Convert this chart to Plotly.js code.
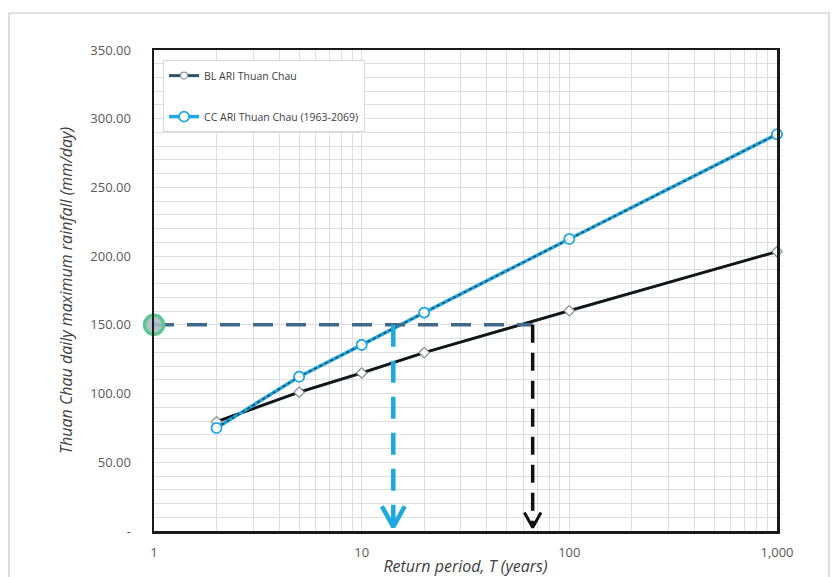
<!DOCTYPE html>
<html>
<head>
<meta charset="utf-8">
<script src="https://cdn.plot.ly/plotly-3.0.1.min.js"></script>
<style>
  html, body { margin: 0; padding: 0; background: #ffffff; }
  #chart { width: 832px; height: 577px; }
</style>
</head>
<body>
<div id="chart"></div>
<script>
// Return periods (years) and annual-maximum daily rainfall estimates (mm/day)
const returnPeriods = [2, 5, 10, 20, 100, 1000];
const blRainfall = [79.5, 101, 115, 129.8, 160.3, 203.3];
const ccRainfall = [75, 112.3, 135.4, 158.9, 212.5, 288.7];

// Design rainfall threshold and the return periods it maps to
const designRain = 150;
const ccReturnAtDesign = 14.2;
const blReturnAtDesign = 66.6;

// Axis tick labels
const yTickVals = [0, 50, 100, 150, 200, 250, 300, 350];
const yTickText = ['-', '50.00', '100.00', '150.00', '200.00', '250.00', '300.00', '350.00'];
const xTickVals = [1, 10, 100, 1000];
const xTickText = ['1', '10', '100', '1,000'];

const seriesNames = ['BL ARI Thuan Chau', 'CC ARI Thuan Chau (1963-2069)'];

// minor log gridlines 2..9 in each decade
const xMinor = [];
[1, 10, 100].forEach(d => { for (let k = 2; k <= 9; k++) xMinor.push(k * d); });

// small open chevron at the foot of a vertical guide
function chevron(T, tipY, halfDecades, armH) {
  return {
    x: [T * Math.pow(10, -halfDecades), T, T * Math.pow(10, halfDecades)],
    y: [tipY + armH, tipY, tipY + armH]
  };
}

const blueArrow = chevron(ccReturnAtDesign, 3, 0.055, 15);
const blackArrow = chevron(blReturnAtDesign, 2.5, 0.04, 11);

const traces = [
  // baseline series
  {
    x: returnPeriods, y: blRainfall, name: seriesNames[0], type: 'scatter', mode: 'lines+markers',
    legendgroup: 'bl', cliponaxis: false,
    line: { color: '#2f5468', width: 3 },
    marker: { symbol: 'circle', size: 7, color: '#ffffff', line: { color: '#8a9aa4', width: 1.2 } }
  },
  // baseline trend
  {
    x: returnPeriods, y: blRainfall, type: 'scatter', mode: 'lines', showlegend: false, hoverinfo: 'skip',
    line: { color: '#141414', width: 2.4 }
  },
  {
    x: returnPeriods, y: blRainfall, type: 'scatter', mode: 'markers', showlegend: false, hoverinfo: 'skip',
    cliponaxis: false,
    marker: { symbol: 'diamond', size: 8, color: '#ffffff', line: { color: '#8c8c8c', width: 1.2 } }
  },
  // climate-change series
  {
    x: returnPeriods, y: ccRainfall, name: seriesNames[1], type: 'scatter', mode: 'lines+markers',
    legendgroup: 'cc', cliponaxis: false,
    line: { color: '#1fa8e0', width: 3.5 },
    marker: { symbol: 'circle', size: 10, color: '#ffffff', line: { color: '#1fa8e0', width: 1.6 } }
  },
  // climate-change trend (dotted)
  {
    x: returnPeriods, y: ccRainfall, type: 'scatter', mode: 'lines', showlegend: false, hoverinfo: 'skip',
    line: { color: '#2b4b5c', width: 1.6, dash: 'dot' }
  },
  {
    x: returnPeriods, y: ccRainfall, type: 'scatter', mode: 'markers', showlegend: false, hoverinfo: 'skip',
    cliponaxis: false,
    marker: { symbol: 'circle', size: 10, color: 'rgba(255,255,255,0.85)', line: { color: '#1fa8e0', width: 1.6 } }
  },
  // design rainfall guide
  {
    x: [1, blReturnAtDesign], y: [designRain, designRain], type: 'scatter', mode: 'lines',
    showlegend: false, hoverinfo: 'skip',
    line: { color: '#41698a', width: 3.5, dash: '20px,13px' }
  },
  {
    x: [ccReturnAtDesign, ccReturnAtDesign], y: [designRain, 6], type: 'scatter', mode: 'lines',
    showlegend: false, hoverinfo: 'skip',
    line: { color: '#1fa8e0', width: 4.5, dash: '22px,14px' }
  },
  {
    x: blueArrow.x, y: blueArrow.y, type: 'scatter', mode: 'lines', showlegend: false, hoverinfo: 'skip',
    line: { color: '#1fa8e0', width: 4.5 }
  },
  {
    x: [blReturnAtDesign, blReturnAtDesign], y: [designRain, 5], type: 'scatter', mode: 'lines',
    showlegend: false, hoverinfo: 'skip',
    line: { color: '#111111', width: 3.5, dash: '18px,10px' }
  },
  {
    x: blackArrow.x, y: blackArrow.y, type: 'scatter', mode: 'lines', showlegend: false, hoverinfo: 'skip',
    line: { color: '#111111', width: 3 }
  },
  // design point on the rainfall axis
  {
    x: [1], y: [designRain], type: 'scatter', mode: 'markers', showlegend: false, hoverinfo: 'skip',
    cliponaxis: false,
    marker: { symbol: 'circle', size: 19, color: 'rgba(170,190,195,0.9)', line: { color: '#5cc890', width: 3.5 } }
  }
];

const gridC = '#dedede';

const layout = {
  width: 832, height: 577,
  margin: { l: 154, r: 55, t: 50, b: 46 },
  paper_bgcolor: '#ffffff',
  plot_bgcolor: '#ffffff',
  font: { family: '"Open Sans", "DejaVu Sans", sans-serif', color: '#595959', size: 13 },
  showlegend: true,
  legend: {
    x: 0.0145, y: 0.979, xanchor: 'left', yanchor: 'top',
    bgcolor: '#ffffff', bordercolor: '#d9d9d9', borderwidth: 1,
    font: { size: 10.5, color: '#404040' },
    traceorder: 'grouped', tracegroupgap: 22,
    itemwidth: 30
  },
  xaxis: {
    type: 'log', range: [0, 3],
    tickvals: xTickVals, ticktext: xTickText,
    showgrid: true, gridcolor: gridC, gridwidth: 1,
    minor: { tickvals: xMinor, showgrid: true, gridcolor: gridC, gridwidth: 1, ticks: '' },
    showline: true, mirror: true, linecolor: '#1a1a1a', linewidth: 2.5,
    ticks: '', ticklabelstandoff: 8,
    zeroline: false,
    tickfont: { size: 13, color: '#595959' },
    title: { text: 'Return period, T (years)', font: { size: 16, color: '#404040', style: 'italic' }, standoff: 10 }
  },
  yaxis: {
    range: [0, 350],
    tickvals: yTickVals, ticktext: yTickText,
    showgrid: true, gridcolor: gridC, gridwidth: 1,
    minor: { dtick: 10, showgrid: true, gridcolor: gridC, gridwidth: 1, ticks: '' },
    showline: true, mirror: true, linecolor: '#1a1a1a', linewidth: 2.5,
    ticks: '', ticklabelstandoff: 18,
    zeroline: false,
    tickfont: { size: 13, color: '#595959' },
    title: { text: 'Thuan Chau daily maximum rainfall (mm/day)', font: { size: 16, color: '#404040', style: 'italic' }, standoff: 14 }
  },
  shapes: [
    {
      type: 'rect', xref: 'paper', yref: 'paper',
      x0: -0.2327, x1: 1.0835, y0: -0.2, y1: 1.0769,
      line: { color: '#c8c8c8', width: 1.2 }, fillcolor: 'rgba(0,0,0,0)', layer: 'below'
    }
  ]
};

Plotly.newPlot('chart', traces, layout, { displayModeBar: false, staticPlot: true });
</script>
</body>
</html>
